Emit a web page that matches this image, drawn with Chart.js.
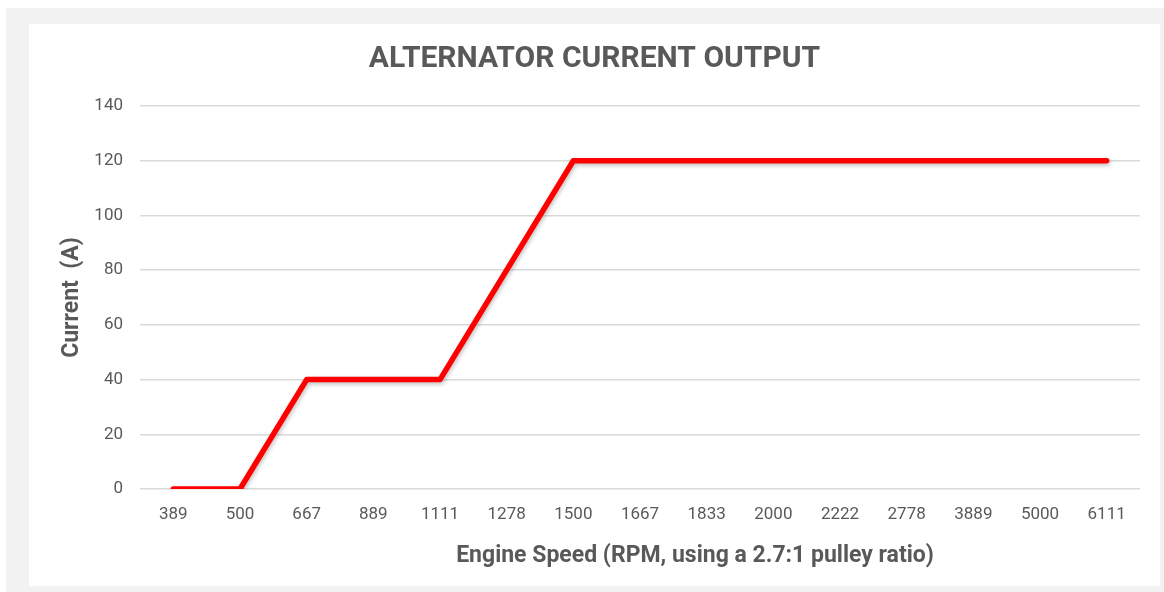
<!DOCTYPE html>
<html>
<head>
<meta charset="utf-8">
<script src="https://cdn.jsdelivr.net/npm/chart.js@4.4.1/dist/chart.umd.min.js"></script>
<style>
  html, body { margin: 0; padding: 0; background: #fff; }
  #outer { position: absolute; left: 6px; top: 8px; width: 1158px; height: 584px; background: #f2f2f2; }
  #panel { position: absolute; left: 29px; top: 24px; width: 1131px; height: 562px; background: #fff; }
</style>
</head>
<body>
<div id="outer"></div>
<div id="panel"><canvas id="myChart" width="1131" height="562"></canvas></div>
<script>
const rpmLabels = ['389', '500', '667', '889', '1111', '1278', '1500', '1667', '1833', '2000', '2222', '2778', '3889', '5000', '6111'];
const currentAmps = [0, 0, 40, 40, 40, 80, 120, 120, 120, 120, 120, 120, 120, 120, 120];
const yTicks = [0, 20, 40, 60, 80, 100, 120, 140];
const xTitle = 'Engine Speed (RPM, using a 2.7:1 pulley ratio)';

const grey = '#595959';

// soft drop shadow under the red line, like the office chart
let shadowPlugin = {
    id: 'lineShadow',
    beforeDatasetDraw(chart) {
        let ctx = chart.ctx;
        ctx.save();
        ctx.shadowColor = 'rgba(0,0,0,0.25)';
        ctx.shadowBlur = 4;
        ctx.shadowOffsetX = 1;
        ctx.shadowOffsetY = 2;
    },
    afterDatasetDraw(chart) {
        chart.ctx.restore();
    }
};

// x axis title sits a bit right of centre in the original
let xTitlePlugin = {
    id: 'xTitle',
    afterDraw(chart) {
        let ctx = chart.ctx;
        let area = chart.chartArea;
        ctx.save();
        ctx.fillStyle = grey;
        ctx.font = 'bold 23px Roboto';
        ctx.textAlign = 'center';
        ctx.textBaseline = 'middle';
        ctx.fillText(xTitle, (area.left + area.right) / 2 + 55, chart.scales.x.bottom - 14);
        ctx.restore();
    }
};

let ctx = document.getElementById('myChart');
let myChart = new Chart(ctx, {
    type: 'line',
    data: {
        labels: rpmLabels,
        datasets: [{
            label: 'Current',
            data: currentAmps,
            borderColor: '#ff0000',
            borderWidth: 5.5,
            borderCapStyle: 'round',
            borderJoinStyle: 'round',
            pointRadius: 0,
            tension: 0
        }]
    },
    options: {
        responsive: false,
        animation: false,
        layout: { padding: { left: 20, right: 20, top: 0, bottom: 16 } },
        plugins: {
            legend: { display: false },
            tooltip: { enabled: false },
            title: {
                display: true,
                text: 'ALTERNATOR CURRENT OUTPUT',
                color: grey,
                font: { family: 'Roboto', size: 30, weight: 'bold' },
                padding: { top: 17, bottom: 29 }
            }
        },
        scales: {
            x: {
                offset: true,
                grid: { display: false, drawTicks: false },
                border: { display: false },
                afterFit(axis) { axis.height = 81; },
                ticks: {
                    color: grey,
                    font: { family: 'Roboto', size: 17 },
                    padding: 16,
                    maxRotation: 0,
                    autoSkip: false
                },
                title: { display: false }
            },
            y: {
                min: 0,
                max: 140,
                afterBuildTicks(axis) {
                    axis.ticks = yTicks.map(v => ({ value: v }));
                },
                afterFit(axis) { axis.width = 91; },
                grid: { color: '#d9d9d9', lineWidth: 1.5, drawTicks: false },
                border: { display: false },
                ticks: {
                    color: grey,
                    font: { family: 'Roboto', size: 17 },
                    padding: 17
                },
                title: {
                    display: true,
                    text: 'Current  (A)',
                    color: grey,
                    font: { family: 'Roboto', size: 23, weight: 'bold' },
                    padding: { top: 9, bottom: 0 }
                }
            }
        }
    },
    plugins: [shadowPlugin, xTitlePlugin]
});
</script>
</body>
</html>
